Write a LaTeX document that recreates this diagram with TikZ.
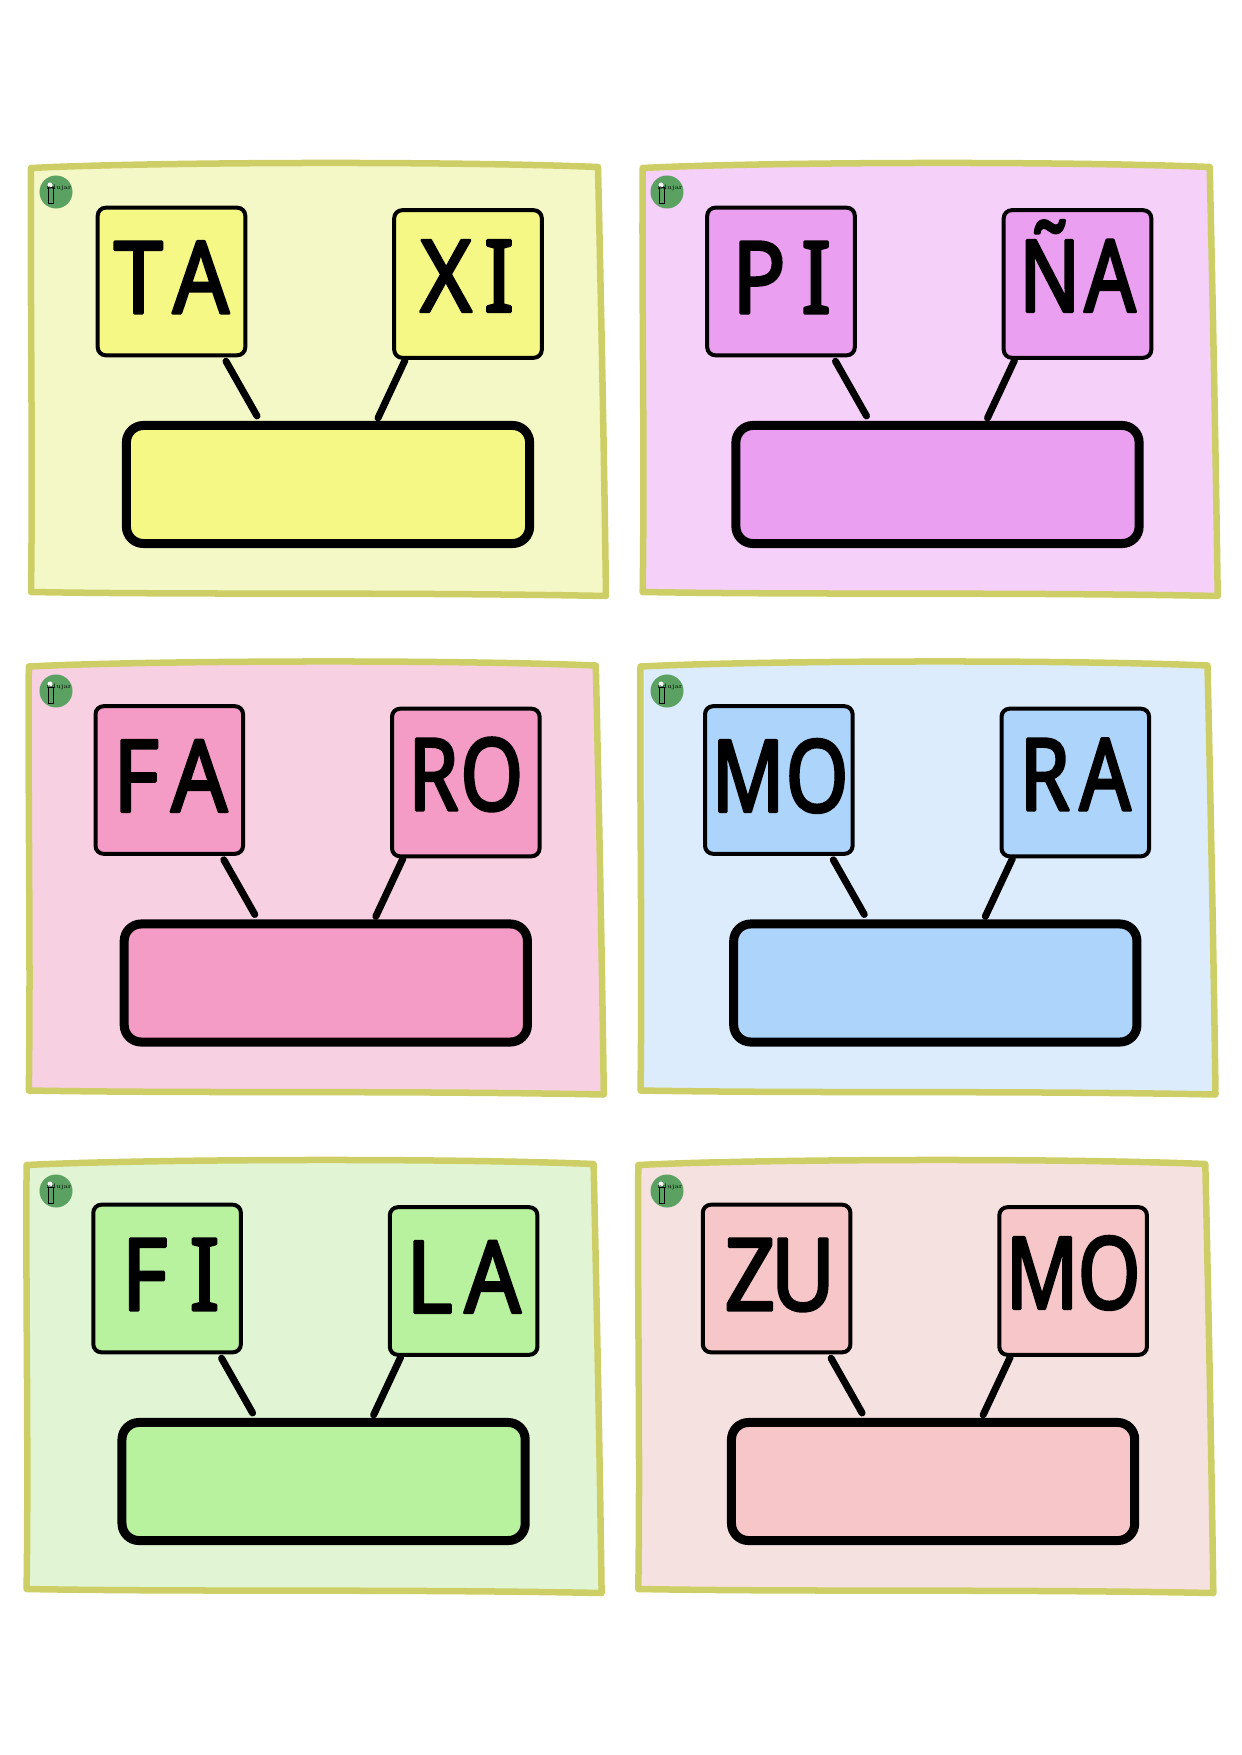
\documentclass[tikz,border=0pt]{standalone}
\usepackage{fontspec}
\usetikzlibrary{calc}
\newfontfamily\wordfont[FakeBold=2.8,FakeStretch=0.88]{Noto Sans}
\newfontfamily\wordslimfont[FakeBold=2.8,FakeStretch=0.80]{Noto Sans}
\definecolor{cardedge}{HTML}{CDCF66}
\definecolor{cardyellow}{HTML}{F4F7C6}
\definecolor{fillyellow}{HTML}{F5F885}
\definecolor{cardlilac}{HTML}{F5D0F8}
\definecolor{filllilac}{HTML}{EB9FF0}
\definecolor{cardrose}{HTML}{F7D0E2}
\definecolor{fillrose}{HTML}{F59CC6}
\definecolor{cardblue}{HTML}{DDECFD}
\definecolor{fillblue}{HTML}{ADD4FB}
\definecolor{cardgreen}{HTML}{E1F5D5}
\definecolor{fillgreen}{HTML}{B9F29E}
\definecolor{cardsalmon}{HTML}{F6E1E1}
\definecolor{fillsalmon}{HTML}{F6C6C8}
\definecolor{logogreen}{HTML}{5AA162}
\tikzset{
  cardshape/.style={draw=cardedge,line width=0.065cm,line join=round,insert path={
    (31,168) .. controls (150,162) and (450,161) .. (598,167)
    .. controls (601,300) and (604,450) .. (606,596)
    .. controls (400,592) and (200,595) .. (31,592)
    .. controls (33,450) and (30,300) .. (31,168) -- cycle}},
  wordbox/.style={draw=black,line width=0.04cm,rounded corners=0.08cm,inner sep=0pt,outer sep=0pt,
    text width=1.475cm,align=center,text height=1.055cm,text depth=0.42cm,
    font={\wordfont\fontsize{28.5pt}{28.5pt}\selectfont\special{pdf:code 1 j 1 J}}},
  wordup/.style={text height=1.015cm,text depth=0.46cm},
  wordslim/.style={font={\wordslimfont\fontsize{28.5pt}{28.5pt}\selectfont\special{pdf:code 1 j 1 J}}},
  slotbox/.style={draw=black,line width=0.09cm,rounded corners=0.17cm,minimum width=4.03cm,minimum height=1.18cm,inner sep=0pt,outer sep=0pt},
  linkline/.style={draw=black,line width=0.07cm,line cap=round},
  logomark/.pic={
    \node [circle,fill=logogreen,minimum size=0.33cm,inner sep=0pt] (-disc) at (0,0) {};
    \draw [line width=0.01cm,black] (-8,-4) rectangle (-3,12);
    \fill [white] (-6,-7) circle (0.025cm);
    \node [inner sep=0pt,font=\fontsize{1.8pt}{2pt}\selectfont] (-name) at (3,-4) {ndujar};
  }
}
\begin{document}
\begin{tikzpicture}[x=0.01cm,y=-0.01cm]
\useasboundingbox (0,0) rectangle (1241,1755);

%ZEILE NR. 0 (von oben)

%KARTE NR. 0 (von links)
\path [cardshape,fill=cardyellow];
\pic (logoa) at (56,192) {logomark};
\node [wordbox,fill=fillyellow] (ta) at (171.5,281.5) {T\kern2.8pt A};
\node [wordbox,wordup,fill=fillyellow] (xi) at (468,284) {\hspace*{-0.5pt}X\kern3.5pt I};
\node [slotbox,fill=fillyellow] (slota) at (328,484.5) {};
\draw [linkline] ($(ta.south)+(54.5,6)$) -- ($(slota.north)+(-71,-9.5)$);
\draw [linkline] ($(xi.south)+(-63,2.5)$) -- ($(slota.north)+(50,-7.5)$);

%KARTE NR. 1 (von links)
\path [shift={(611.7,0)},cardshape,fill=cardlilac];
\pic (logob) at (667,192) {logomark};
\node [wordbox,fill=filllilac] (pi) at (781,281.5) {\hspace*{0.4pt}P\kern4.4pt I};
\node [wordbox,wordup,wordslim,fill=filllilac] (na) at (1077.5,284) {Ñ\kern1.2pt A};
\node [slotbox,fill=filllilac] (slotb) at (937.5,484.5) {};
\draw [linkline] ($(pi.south)+(54.5,6)$) -- ($(slotb.north)+(-71,-9.5)$);
\draw [linkline] ($(na.south)+(-63,2.5)$) -- ($(slotb.north)+(50,-7.5)$);

%ZEILE NR. 1 (von oben)

%KARTE NR. 0 (von links)
\path [shift={(-2.2,498.5)},cardshape,fill=cardrose];
\pic (logoc) at (56,691) {logomark};
\node [wordbox,fill=fillrose] (fa) at (169.3,780) {\hspace*{0.6pt}F\kern3.4pt A};
\node [wordbox,wordup,wordslim,fill=fillrose] (ro) at (465.8,782.5) {R\kern0.6pt O};
\node [slotbox,fill=fillrose] (slotc) at (325.8,983) {};
\draw [linkline] ($(fa.south)+(54.5,6)$) -- ($(slotc.north)+(-71,-9.5)$);
\draw [linkline] ($(ro.south)+(-63,2.5)$) -- ($(slotc.north)+(50,-7.5)$);

%KARTE NR. 1 (von links)
\path [shift={(609.5,498.5)},cardshape,fill=cardblue];
\pic (logod) at (667,691) {logomark};
\node [wordbox,wordslim,fill=fillblue] (mo) at (778.8,780) {\hspace*{0.7pt}M\kern0.4pt O};
\node [wordbox,wordup,wordslim,fill=fillblue] (ra) at (1075.3,782.5) {R\kern2.8pt A};
\node [slotbox,fill=fillblue] (slotd) at (935.3,983) {};
\draw [linkline] ($(mo.south)+(54.5,6)$) -- ($(slotd.north)+(-71,-9.5)$);
\draw [linkline] ($(ra.south)+(-63,2.5)$) -- ($(slotd.north)+(50,-7.5)$);

%ZEILE NR. 2 (von oben)

%KARTE NR. 0 (von links)
\path [shift={(-4.4,997)},cardshape,fill=cardgreen];
\pic (logoe) at (56,1191) {logomark};
\node [wordbox,fill=fillgreen] (fi) at (167.1,1278.5) {\hspace*{2pt}F\kern6.3pt I};
\node [wordbox,fill=fillgreen] (la) at (463.6,1281) {L\kern3.4pt A};
\node [slotbox,fill=fillgreen] (slote) at (323.6,1481.5) {};
\draw [linkline] ($(fi.south)+(54.5,6)$) -- ($(slote.north)+(-71,-9.5)$);
\draw [linkline] ($(la.south)+(-63,2.5)$) -- ($(slote.north)+(50,-7.5)$);

%KARTE NR. 1 (von links)
\path [shift={(607.3,997)},cardshape,fill=cardsalmon];
\pic (logof) at (667,1191) {logomark};
\node [wordbox,fill=fillsalmon] (zu) at (776.6,1278.5) {\hspace*{1.9pt}Z\kern-1.3pt U};
\node [wordbox,wordup,wordslim,fill=fillsalmon] (moz) at (1073.1,1281) {M\kern-0.2pt O};
\node [slotbox,fill=fillsalmon] (slotf) at (933.1,1481.5) {};
\draw [linkline] ($(zu.south)+(54.5,6)$) -- ($(slotf.north)+(-71,-9.5)$);
\draw [linkline] ($(moz.south)+(-63,2.5)$) -- ($(slotf.north)+(50,-7.5)$);

\end{tikzpicture}
\end{document}
